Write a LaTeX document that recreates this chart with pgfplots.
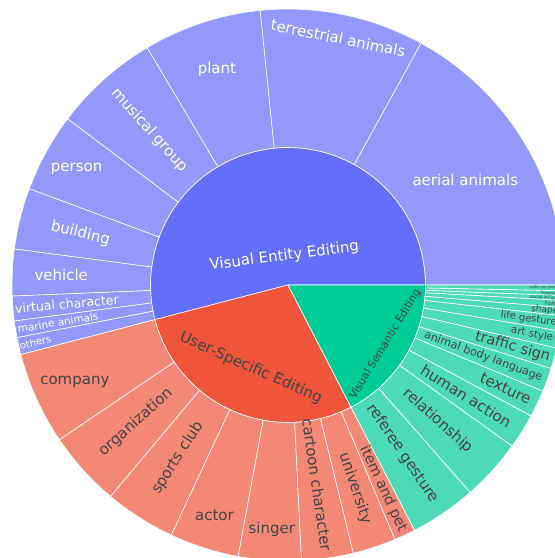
\documentclass[border=0pt]{standalone}
\usepackage{fontspec}
\setmainfont{DejaVu Sans}
\usepackage{pgfplots}
\usepackage{pgfplotstable}
\pgfplotsset{compat=1.18}

% plotly colours: inner ring full, leaves at 0.7 opacity over white
\definecolor{in1}{HTML}{636EFA}
\definecolor{in2}{HTML}{EF553B}
\definecolor{in3}{HTML}{00CC96}
\definecolor{out1}{HTML}{9299FB}
\definecolor{out2}{HTML}{F48876}
\definecolor{out3}{HTML}{4DDBB5}
\definecolor{tx1}{HTML}{FFFFFF}
\definecolor{tx2}{HTML}{444444}
\definecolor{tx3}{HTML}{444444}

% value = share of the circle in degrees; r = label radius; mode 0 horizontal, 1 radial, 2 tangential
\pgfplotstableread{
label value r mode size grp
{Visual Entity Editing} 194.6 29 2 15 1
{User-Specific Editing} 102.7 91 2 15 2
{Visual Semantic Editing} 62.7 114 2 10.7 3
}\tblinner

\pgfplotstableread{
label value r mode size grp
{aerial animals} 61.2 206 0 15 1
{terrestrial animals} 34.6 252 2 15 1
{plant} 24.9 227 0 15 1
{musical group} 22.3 208 1 15 1
{person} 16.6 241 0 15 1
{building} 12.9 214 1 15 1
{vehicle} 9.8 227 0 15 1
{virtual character} 5.2 222 1 12.5 1
{marine animals} 3.5 233 1 10.5 1
{others} 3.6 259 1 10 1
{company} 19.5 234 0 15 2
{organization} 15.9 205 1 15 2
{sports club} 15.0 205 1 15 2
{actor} 14.6 242 0 15 2
{singer} 13.2 245 0 15 2
{cartoon character} 10.9 202 1 15 2
{university} 9.1 214 1 15 2
{item and pet} 4.5 225 1 14.5 2
{referee gesture} 14.0 204 1 15 3
{relationship} 13.0 202 1 15 3
{human action} 7.4 210 1 15 3
{texture} 5.7 241 1 15 3
{animal body language} 5.0 208 1 11.2 3
{traffic sign} 4.4 233 1 14.5 3
{art style} 3.6 249 1 10.3 3
{life gesture} 3.2 243 1 10 3
{shape} 1.7 258 1 9 3
{color} 1.5 265 1 6 3
{social action} 1.0 256 1 4.5 3
{emotion} 1.0 261 1 4 3
{traffic cop gesture} 1.2 257 1 3.5 3
}\tblleaf

% #1 table, #2 inner radius, #3 outer radius, #4 fill prefix, #5 1=sectors 2=labels
\newcommand\ring[5]{%
  \def\cur{0}%
  \pgfplotstablegetrowsof{#1}%
  \pgfmathtruncatemacro\last{\pgfplotsretval-1}%
  \pgfplotsforeachungrouped \ii in {0,...,\last}{%
    \pgfplotstablegetelem{\ii}{label}\of#1\let\lab\pgfplotsretval
    \pgfplotstablegetelem{\ii}{value}\of#1\let\val\pgfplotsretval
    \pgfplotstablegetelem{\ii}{r}\of#1\let\lr\pgfplotsretval
    \pgfplotstablegetelem{\ii}{mode}\of#1\let\md\pgfplotsretval
    \pgfplotstablegetelem{\ii}{size}\of#1\let\fs\pgfplotsretval
    \pgfplotstablegetelem{\ii}{grp}\of#1\let\g\pgfplotsretval
    \pgfmathsetmacro\a{\cur}%
    \pgfmathsetmacro\b{\cur+\val}%
    \pgfmathsetmacro\m{(\a+\b)/2}%
    \ifnum#5=1
      \pgfmathsetmacro\xa{#2*cos(\a)}%
      \pgfmathsetmacro\ya{#2*sin(\a)}%
      \pgfmathsetmacro\xb{#3*cos(\b)}%
      \pgfmathsetmacro\yb{#3*sin(\b)}%
      \edef\cmd{\noexpand\filldraw[fill=#4\g, draw=white, line width=0.6pt]
        (axis cs:\xa,\ya) arc[start angle=\a, end angle=\b, radius=#2pt]
        -- (axis cs:\xb,\yb) arc[start angle=\b, end angle=\a, radius=#3pt] -- cycle;}%
    \else
      \pgfmathsetmacro\xm{\lr*cos(\m)}%
      \pgfmathsetmacro\ym{\lr*sin(\m)}%
      \pgfmathsetmacro\rot{(\md>0)*(Mod(\m+90*(2-\md),180)-90)}%
      \edef\cmd{\noexpand\node[rotate=\rot, text=tx\g, inner sep=0pt,
        font=\noexpand\fontsize{\fs}{\fs}\noexpand\selectfont]
        at (axis cs:\xm,\ym) {\lab};}%
    \fi
    \cmd
    \xdef\cur{\b}%
  }%
}

\begin{document}
\begin{tikzpicture}
\begin{axis}[
    hide axis,
    x=1pt, y=1pt,
    xmin=-288, xmax=267,
    ymin=-273, ymax=285,
    clip=true,
]
  \ring{\tblinner}{0.01}{137.5}{in}{1}
  \ring{\tblleaf}{137.5}{276}{out}{1}
  \ring{\tblinner}{0.01}{137.5}{in}{2}
  \ring{\tblleaf}{137.5}{276}{out}{2}
  \coordinate (bl) at (axis cs:-288,-273);
  \coordinate (tr) at (axis cs:267,285);
\end{axis}
\pgfresetboundingbox
\path[use as bounding box] (bl) rectangle (tr);
\end{tikzpicture}
\end{document}
